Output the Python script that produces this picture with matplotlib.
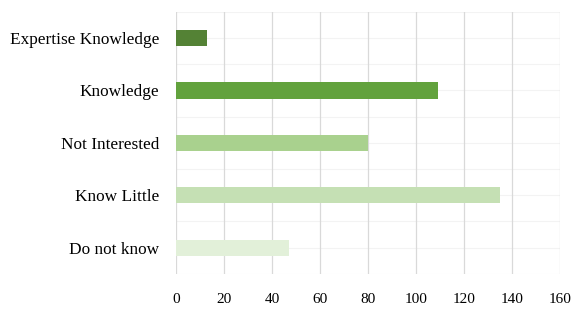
import matplotlib.pyplot as plt

# Data
categories = ["Do not know", "Know Little", "Not Interested", "Knowledge", "Expertise Knowledge"]
values = [47, 135, 80, 109, 13]
colors = ["#e2f0d9", "#c5e0b4", "#a9d18e", "#62a23d", "#548235"]
x_ticks = [0, 20, 40, 60, 80, 100, 120, 140, 160]

plt.rcParams["font.family"] = ["Liberation Serif", "DejaVu Serif"]

fig = plt.figure(figsize=(5.72, 3.13), dpi=100)
ax = fig.add_axes([0.308, 0.125, 0.671, 0.837])

ax.barh(range(len(categories)), values, height=0.31, color=colors, zorder=3)

ax.set_xlim(0, 160)
ax.set_ylim(-0.5, len(categories) - 0.5)
ax.set_xticks(x_ticks)
ax.set_yticks(range(len(categories)))
ax.set_yticklabels(categories, fontsize=12.4)
ax.tick_params(axis="x", labelsize=11, length=0, pad=14)
ax.tick_params(axis="y", length=0, pad=12)

# faint horizontal lines, darker vertical grid
for y in [i * 0.5 - 0.5 for i in range(2 * len(categories) + 1)]:
    ax.axhline(y, color="#f3f3f3", lw=0.8, zorder=1)
ax.grid(axis="x", color="#d9d9d9", lw=0.9, zorder=2)

for s in ax.spines.values():
    s.set_visible(False)

fig.savefig("out.png", dpi=100)
